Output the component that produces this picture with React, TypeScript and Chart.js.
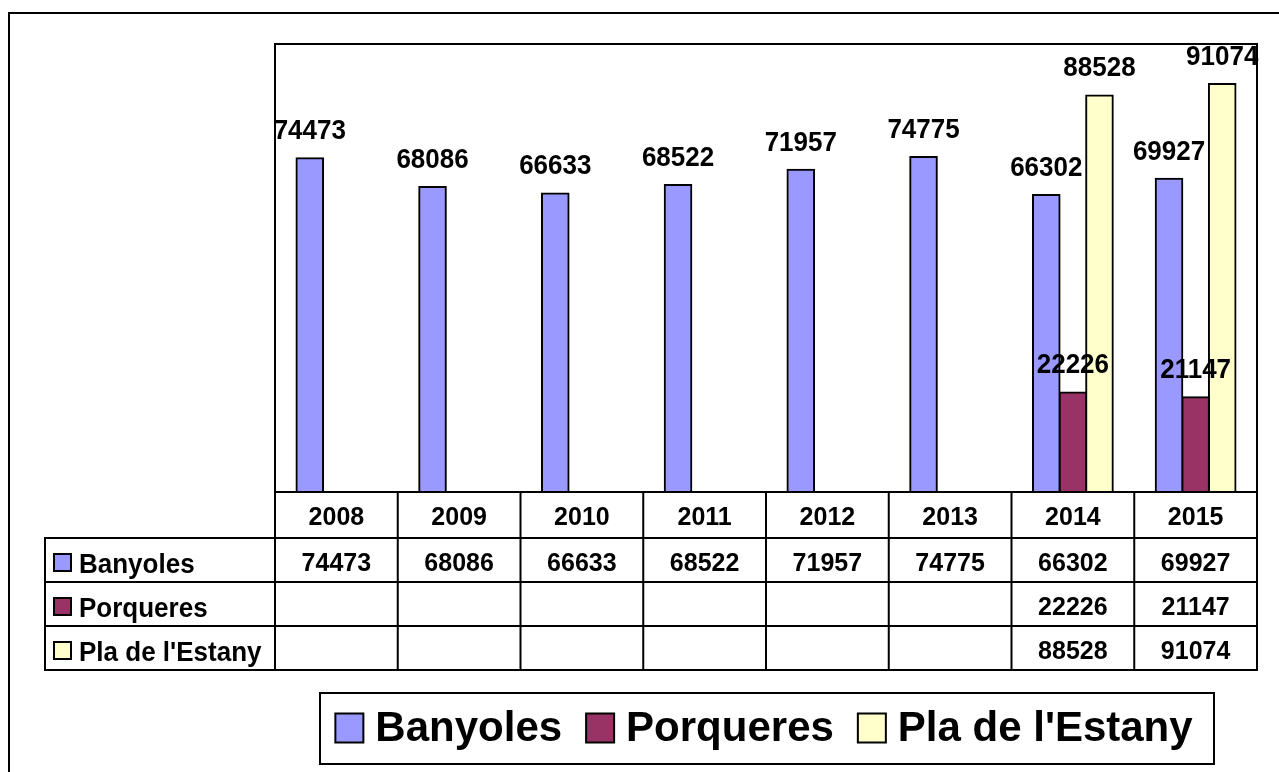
import React, { useEffect, useRef } from 'react';
import { Chart, registerables } from 'chart.js';

Chart.register(...registerables);

// ---- Data ----
const categories = ['2008', '2009', '2010', '2011', '2012', '2013', '2014', '2015'];
const seriesNames = ['Banyoles', 'Porqueres', "Pla de l'Estany"];
const banyoles = [74473, 68086, 66633, 68522, 71957, 74775, 66302, 69927];
const porqueres = [null, null, null, null, null, null, 22226, 21147];
const plaEstany = [null, null, null, null, null, null, 88528, 91074];
const seriesColors = ['#9999FF', '#993366', '#FFFFCC'];

// ---- Layout ----
const W = 1279;
const H = 772;
const FONT = '"Liberation Sans", Arial, Helvetica, sans-serif';
const PLOT = { left: 275, top: 44, right: 1257, bottom: 492 };
const TABLE_LEFT = 45;
const ROW_EDGES = [492, 538, 582, 626, 670];
const LEGEND_BOX = { left: 320, top: 693, right: 1214, bottom: 764 };

function drawText(ctx: CanvasRenderingContext2D, text: string, x: number, y: number, sy: number) {
  ctx.save();
  ctx.translate(x, y);
  ctx.scale(1, sy);
  ctx.fillText(text, 0, 0);
  ctx.restore();
}

const decorPlugin = {
  id: 'decor',
  afterDatasetsDraw(chart: any) {
    const ctx = chart.ctx as CanvasRenderingContext2D;
    ctx.save();
    ctx.font = `bold 26px ${FONT}`;
    ctx.fillStyle = '#000';
    ctx.textAlign = 'center';
    ctx.textBaseline = 'alphabetic';
    chart.data.datasets.forEach((ds: any, i: number) => {
      const meta = chart.getDatasetMeta(i);
      meta.data.forEach((el: any, j: number) => {
        const v = ds.data[j];
        if (v == null) return;
        drawText(ctx, String(v), el.x, el.y - 19, 1.08);
      });
    });
    ctx.restore();
  },
  afterDraw(chart: any) {
    const ctx = chart.ctx as CanvasRenderingContext2D;
    const ca = chart.chartArea;
    const xs = chart.scales.x;
    const n = categories.length;
    const cw = (ca.right - ca.left) / n;
    ctx.save();
    ctx.strokeStyle = '#000';
    ctx.lineWidth = 2;

    // outer chart border
    ctx.beginPath();
    ctx.moveTo(9, H + 10);
    ctx.lineTo(9, 13);
    ctx.lineTo(W + 10, 13);
    ctx.stroke();

    // plot area border
    ctx.strokeRect(ca.left, ca.top, ca.right - ca.left, ca.bottom - ca.top);

    // data table grid
    const tableBottom = ROW_EDGES[ROW_EDGES.length - 1];
    ctx.beginPath();
    for (let r = 1; r < ROW_EDGES.length; r++) {
      ctx.moveTo(TABLE_LEFT - 1, ROW_EDGES[r]);
      ctx.lineTo(ca.right + 1, ROW_EDGES[r]);
    }
    ctx.moveTo(TABLE_LEFT, ROW_EDGES[1]);
    ctx.lineTo(TABLE_LEFT, tableBottom);
    for (let k = 0; k <= n; k++) {
      const x = ca.left + k * cw;
      ctx.moveTo(x, ca.bottom);
      ctx.lineTo(x, tableBottom + 1);
    }
    ctx.stroke();

    // header (years)
    ctx.fillStyle = '#000';
    ctx.textAlign = 'center';
    ctx.textBaseline = 'alphabetic';
    ctx.font = `bold 25px ${FONT}`;
    const hc = (ROW_EDGES[0] + ROW_EDGES[1]) / 2;
    categories.forEach((c, i) => {
      drawText(ctx, c, xs.getPixelForValue(i), hc + 10, 1.04);
    });

    // rows
    const rows = [banyoles, porqueres, plaEstany];
    rows.forEach((vals, r) => {
      const top = ROW_EDGES[r + 1];
      const bot = ROW_EDGES[r + 2];
      const cy = (top + bot) / 2;
      // key square
      ctx.fillStyle = seriesColors[r];
      ctx.fillRect(54, cy - 6, 17, 17);
      ctx.strokeRect(54, cy - 6, 17, 17);
      // label
      ctx.fillStyle = '#000';
      ctx.textAlign = 'left';
      ctx.font = `bold 26px ${FONT}`;
      drawText(ctx, seriesNames[r], 79, cy + 13, 1.08);
      // values
      ctx.textAlign = 'center';
      ctx.font = `bold 25px ${FONT}`;
      vals.forEach((v, i) => {
        if (v == null) return;
        drawText(ctx, String(v), xs.getPixelForValue(i), cy + 11, 1.04);
      });
    });

    // legend
    const lb = LEGEND_BOX;
    ctx.strokeRect(lb.left, lb.top, lb.right - lb.left, lb.bottom - lb.top);
    ctx.font = `bold 42px ${FONT}`;
    const sq = 28;
    const gapText = 12;
    const gapItem = 24;
    const widths = seriesNames.map((s) => ctx.measureText(s).width);
    let total = 0;
    widths.forEach((w, i) => {
      total += sq + gapText + w + (i < widths.length - 1 ? gapItem : 0);
    });
    let x = (lb.left + lb.right) / 2 - total / 2 - 3;
    const lcy = (lb.top + lb.bottom) / 2;
    ctx.textAlign = 'left';
    seriesNames.forEach((s, i) => {
      ctx.fillStyle = seriesColors[i];
      ctx.fillRect(x, lcy - 15, sq, 29);
      ctx.strokeRect(x, lcy - 15, sq, 29);
      ctx.fillStyle = '#000';
      ctx.fillText(s, x + sq + gapText, lcy + 12);
      x += sq + gapText + widths[i] + gapItem;
    });

    ctx.restore();
  },
};

export default function App() {
  const canvasRef = useRef<HTMLCanvasElement | null>(null);

  useEffect(() => {
    const canvas = canvasRef.current;
    if (!canvas) return;
    const datasets = [banyoles, porqueres, plaEstany].map((d, i) => ({
      label: seriesNames[i],
      data: d,
      backgroundColor: seriesColors[i],
      borderColor: '#000',
      borderWidth: 2,
      inflateAmount: 1,
      categoryPercentage: 0.65,
      barPercentage: 1.0,
    }));
    const chart = new Chart(canvas, {
      type: 'bar',
      data: { labels: categories, datasets: datasets as any },
      options: {
        responsive: false,
        devicePixelRatio: 1,
        animation: false,
        layout: {
          padding: {
            left: PLOT.left,
            top: PLOT.top,
            right: W - PLOT.right,
            bottom: H - PLOT.bottom,
          },
        },
        scales: {
          x: { display: false, offset: true, grid: { display: false } },
          y: { display: false, min: 0, max: 100000, grid: { display: false } },
        },
        plugins: {
          legend: { display: false },
          tooltip: { enabled: false },
        },
      },
      plugins: [decorPlugin],
    });
    return () => chart.destroy();
  }, []);

  return (
    <div style={{ position: 'fixed', left: 0, top: 0, width: W, height: H, background: '#fff' }}>
      <canvas ref={canvasRef} width={W} height={H} style={{ display: 'block', width: W, height: H }} />
    </div>
  );
}
